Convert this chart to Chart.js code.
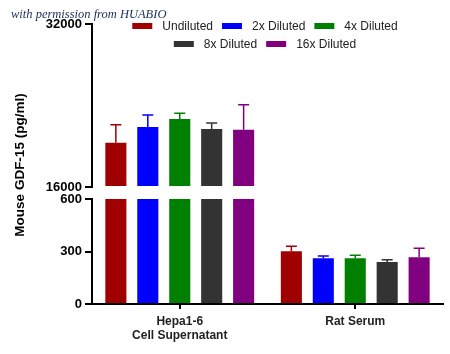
<!DOCTYPE html>
<html>
<head>
<meta charset="utf-8">
<script src="https://cdn.jsdelivr.net/npm/chart.js@4"></script>
<style>
  html, body { margin: 0; padding: 0; background: #fff; }
  #contenedor { position: relative; width: 450px; height: 354px; }
</style>
</head>
<body>
<div id="contenedor"><canvas id="grafico"></canvas></div>
<script>
const categorias = [['Hepa1-6', 'Cell Supernatant'], 'Rat Serum'];
const series = ['Undiluted', '2x Diluted', '4x Diluted', '8x Diluted', '16x Diluted'];

const undiluted = [20350, 301];
const diluted2x = [21890, 261];
const diluted4x = [22680, 261];
const diluted8x = [21690, 240];
const diluted16x = [21630, 267];

const undilutedErr = [1770, 29];
const diluted2xErr = [1180, 13];
const diluted4xErr = [560, 17];
const diluted8xErr = [590, 13];
const diluted16xErr = [2450, 51];

const ticksBajo = [0, 300, 600];
const ticksAlto = [16000, 32000];

const colores = ['#a00000', '#0000ff', '#008000', '#333333', '#800080'];
const valores = [undiluted, diluted2x, diluted4x, diluted8x, diluted16x];
const errores = [undilutedErr, diluted2xErr, diluted4xErr, diluted8xErr, diluted16xErr];

const corteBajo = ticksBajo[ticksBajo.length - 1];
const corteAlto = ticksAlto[0];
const fuente = '"Liberation Sans", Arial, sans-serif';
Chart.defaults.font.family = fuente;

// each series is drawn twice: once on the lower segment, once on the upper one
const datasets = [];
series.forEach((nombre, i) => {
  const v = valores[i];
  datasets.push({
    label: nombre,
    data: v.map(x => x > corteBajo ? x : null),
    errores: errores[i].map((e, j) => v[j] > corteBajo ? e : null),
    yAxisID: 'yAlto',
    stack: nombre,
    base: corteAlto,
    backgroundColor: colores[i]
  });
  datasets.push({
    label: nombre,
    data: v.map(x => Math.min(x, corteBajo)),
    errores: errores[i].map((e, j) => v[j] > corteBajo ? null : e),
    yAxisID: 'y',
    stack: nombre,
    backgroundColor: colores[i]
  });
});

const extras = {
  id: 'extras',
  afterDatasetsDraw(chart) {
    const ctx = chart.ctx;
    chart.data.datasets.forEach((ds, i) => {
      const meta = chart.getDatasetMeta(i);
      const escala = chart.scales[ds.yAxisID];
      meta.data.forEach((barra, j) => {
        const e = ds.errores[j];
        if (e == null || ds.data[j] == null) return;
        const yTop = escala.getPixelForValue(ds.data[j] + e);
        ctx.save();
        ctx.strokeStyle = ds.backgroundColor;
        ctx.lineWidth = 1.5;
        ctx.beginPath();
        ctx.moveTo(barra.x, barra.y);
        ctx.lineTo(barra.x, yTop);
        ctx.moveTo(barra.x - 5.5, yTop);
        ctx.lineTo(barra.x + 5.5, yTop);
        ctx.stroke();
        ctx.restore();
      });
    });
  },
  afterDraw(chart) {
    const ctx = chart.ctx;
    const area = chart.chartArea;
    ctx.save();

    // y title, centred over both segments
    ctx.translate(20, (area.top + area.bottom) / 2 + 1);
    ctx.rotate(-Math.PI / 2);
    ctx.font = 'bold 13.5px ' + fuente;
    ctx.fillStyle = '#000';
    ctx.textAlign = 'center';
    ctx.textBaseline = 'middle';
    ctx.fillText('Mouse GDF-15 (pg/ml)', 0, 0);
    ctx.setTransform(1, 0, 0, 1, 0, 0);

    // legend
    ctx.font = '12px ' + fuente;
    ctx.textAlign = 'left';
    ctx.textBaseline = 'middle';
    const filas = [[0, 1, 2], [3, 4]];
    const filasY = [26, 44];
    filas.forEach((fila, f) => {
      const anchos = fila.map(k => 30 + ctx.measureText(series[k]).width);
      const total = anchos.reduce((a, b) => a + b, 0) + 9 * (fila.length - 1);
      let x = 265 - total / 2;
      fila.forEach((k, n) => {
        ctx.fillStyle = colores[k];
        ctx.fillRect(x, filasY[f] - 3, 20, 6);
        ctx.fillStyle = '#222';
        ctx.fillText(series[k], x + 30, filasY[f] + 0.5);
        x += anchos[n] + 9;
      });
    });

    // watermark
    ctx.font = 'italic 12.5px "Liberation Serif", serif';
    ctx.fillStyle = '#1b2b5b';
    ctx.textBaseline = 'alphabetic';
    ctx.fillText('with permission from HUABIO', 11, 18);
    ctx.restore();
  }
};

function ejeY(ticks, min, max, peso, orden) {
  return {
    type: 'linear',
    position: 'left',
    stack: 'eje',
    stackWeight: peso,
    weight: orden,
    stacked: false,
    min: min,
    max: max,
    afterFit: s => { s.width = 92; },
    afterBuildTicks: s => { s.ticks = ticks.map(v => ({ value: v })); },
    border: { display: true, color: '#000', width: 2 },
    grid: { drawOnChartArea: false, drawTicks: true, tickLength: 7, color: '#000', lineWidth: 2 },
    ticks: { color: '#000', padding: 3, font: { size: 13, weight: 'bold' }, callback: v => String(v) }
  };
}

const config = {
  type: 'bar',
  data: { labels: categorias, datasets: datasets },
  options: {
    responsive: true,
    maintainAspectRatio: false,
    animation: false,
    barPercentage: 0.66,
    categoryPercentage: 0.91,
    layout: { padding: { top: 24, right: 7, bottom: 0, left: 0 } },
    plugins: { legend: { display: false }, tooltip: { enabled: false } },
    scales: {
      yAlto: ejeY(ticksAlto, ticksAlto[0], ticksAlto[ticksAlto.length - 1], 163, 2),
      yHueco: {
        type: 'linear', position: 'left', stack: 'eje', stackWeight: 12, weight: 1,
        afterFit: s => { s.width = 92; },
        border: { display: false }, grid: { display: false }, ticks: { display: false }
      },
      y: ejeY(ticksBajo, ticksBajo[0], corteBajo, 105, 0),
      x: {
        stacked: true,
        afterFit: s => { s.height = 50; },
        border: { display: true, color: '#000', width: 2 },
        grid: { offset: false, drawOnChartArea: false, drawTicks: true, tickLength: 5, color: '#000', lineWidth: 2 },
        ticks: { color: '#222', padding: 5, maxRotation: 0, font: { size: 12, weight: 'bold' } }
      }
    }
  },
  plugins: [extras]
};

new Chart(document.getElementById('grafico'), config);
</script>
</body>
</html>
